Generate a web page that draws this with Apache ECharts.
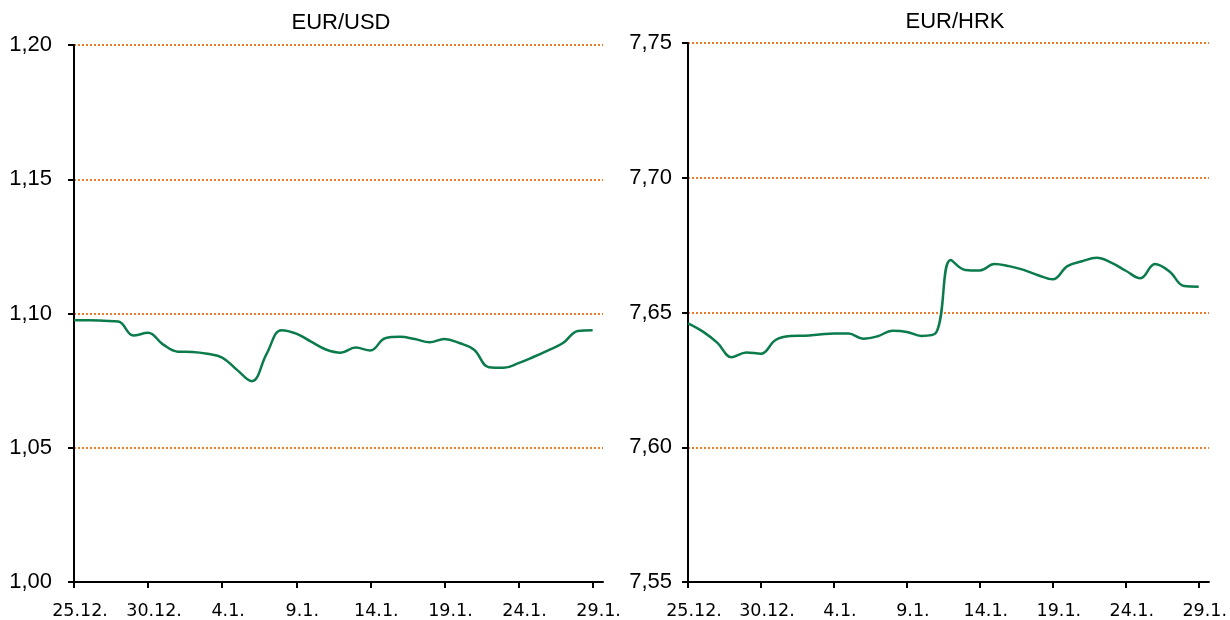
<!DOCTYPE html>
<html>
<head>
<meta charset="utf-8">
<script src="https://cdn.jsdelivr.net/npm/echarts@6/dist/echarts.min.js"></script>
<style>
html,body{margin:0;padding:0;background:#fff;}
#chart{width:1230px;height:620px;}
</style>
</head>
<body>
<div id="chart"></div>
<script>
// Day index 0 = 25.12., one entry per calendar day up to 29.1.
const days = [0,1,2,3,4,5,6,7,8,9,10,11,12,13,14,15,16,17,18,19,20,21,22,23,24,25,26,27,28,29,30,31,32,33,34,35];
const dateTickValues = [0,5,10,15,20,25,30,35];
const dateTickLabels = ['25.12.','30.12.','4.1.','9.1.','14.1.','19.1.','24.1.','29.1.'];

const eurUsd = [1.0975,1.0975,1.0973,1.0970,1.0918,1.0928,1.0885,1.0858,1.0857,1.0850,
                1.0836,1.0790,1.0748,1.0850,1.0938,1.0925,1.0895,1.0866,1.0854,1.0873,
                1.0862,1.0908,1.0913,1.0905,1.0893,1.0905,1.0890,1.0865,1.0800,1.0798,
                1.0815,1.0838,1.0863,1.0890,1.0935,1.0938];
const eurHrk = [7.6460,7.6430,7.6388,7.6334,7.6352,7.6347,7.6398,7.6413,7.6414,7.6418,
                7.6422,7.6422,7.6403,7.6412,7.6432,7.6428,7.6413,7.6425,7.6695,7.6658,
                7.6656,7.6680,7.6672,7.6658,7.6638,7.6623,7.6672,7.6690,7.6703,7.6685,
                7.6655,7.6627,7.6680,7.6652,7.6598,7.6596];

const usdTicks = ['1,00','1,05','1,10','1,15','1,20'];
const hrkTicks = ['7,55','7,60','7,65','7,70','7,75'];

const ORANGE = '#F07A26';
const GREEN = '#0B7B4C';

function xAxisCfg(gi){
  return {
    type:'value', gridIndex:gi, min:0, max:35.7, interval:5,
    axisLine:{show:true, onZero:false, lineStyle:{color:'#000', width:2}},
    axisTick:{show:true, length:6, lineStyle:{color:'#000', width:2}, customValues: dateTickValues},
    axisLabel:{
      customValues: dateTickValues,
      margin:20, color:'#000', fontFamily:'DejaVu Sans', fontSize:17.5, padding:[0,0,0,12],
      formatter:function(v){ const i = dateTickValues.indexOf(Math.round(v)); return i>=0 ? dateTickLabels[i] : ''; }
    },
    splitLine:{show:false}
  };
}
function yAxisCfg(gi, min, max, labels, margin){
  return {
    type:'value', gridIndex:gi, min:min, max:max, interval:0.05,
    axisLine:{show:true, lineStyle:{color:'#000', width:2}},
    axisTick:{show:true, length:6, lineStyle:{color:'#000', width:2}},
    axisLabel:{
      margin:margin, color:'#000', fontFamily:'Liberation Sans', fontSize:22,
      formatter:function(v){ return labels[Math.round((v-min)/0.05)]; }
    },
    splitLine:{show:true, lineStyle:{color:ORANGE, width:2, type:[2,2]}}
  };
}

const chart = echarts.init(document.getElementById('chart'), null, {renderer:'canvas'});
chart.setOption({
  animation:false,
  backgroundColor:'#fff',
  grid:[
    {left:74, top:45, width:529, height:538},
    {left:688, top:43, width:524, height:540}
  ],
  xAxis:[xAxisCfg(0), xAxisCfg(1)],
  yAxis:[yAxisCfg(0, 1.00, 1.20, usdTicks, 22), yAxisCfg(1, 7.55, 7.75, hrkTicks, 16)],
  graphic:[
    {type:'text', x:341, y:23, style:{text:'EUR/USD', textAlign:'center', textVerticalAlign:'middle', font:'22px "Liberation Sans"', fill:'#000'}},
    {type:'text', x:955, y:22, style:{text:'EUR/HRK', textAlign:'center', textVerticalAlign:'middle', font:'22px "Liberation Sans"', fill:'#000'}}
  ],
  series:[
    {type:'line', xAxisIndex:0, yAxisIndex:0, showSymbol:false, smooth:0.4,
     lineStyle:{color:GREEN, width:2.5}, data: days.map((d,i)=>[d, eurUsd[i]])},
    {type:'line', xAxisIndex:1, yAxisIndex:1, showSymbol:false, smooth:0.4,
     lineStyle:{color:GREEN, width:2.5}, data: days.map((d,i)=>[d, eurHrk[i]])}
  ]
});
</script>
</body>
</html>
